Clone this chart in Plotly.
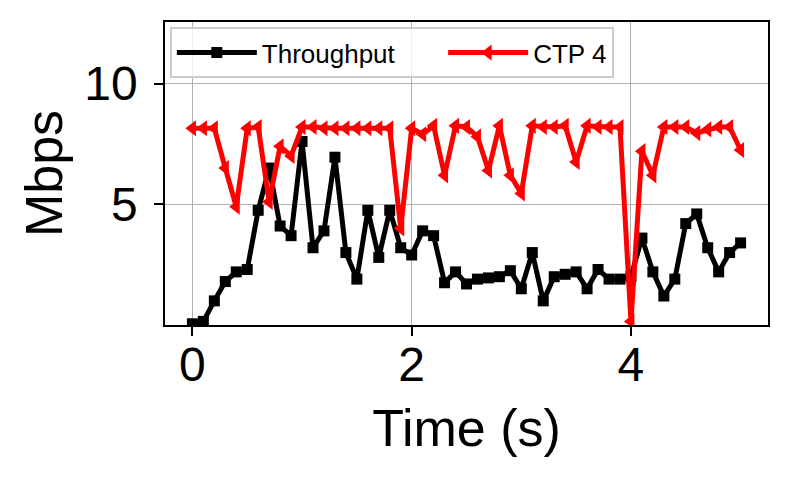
import plotly.graph_objects as go

time_s = [round(i * 0.1, 1) for i in range(51)]
throughput = [0.05, 0.15, 1.0, 1.8, 2.2, 2.3, 4.75, 6.5, 4.1, 3.7,
              7.6, 3.2, 3.9, 6.95, 3.0, 1.9, 4.75, 2.8, 4.75, 3.2,
              2.9, 3.9, 3.7, 1.75, 2.2, 1.7, 1.9, 1.95, 2.0, 2.25,
              1.5, 3.0, 1.0, 2.0, 2.1, 2.2, 1.5, 2.3, 1.9, 1.9,
              2.0, 3.6, 2.2, 1.2, 1.9, 4.2, 4.6, 3.2, 2.2, 3.0, 3.4]
ctp4 = [8.15, 8.15, 8.15, 6.5, 4.9, 8.15, 8.2, 5.1, 7.4, 7.0,
        8.2, 8.2, 8.15, 8.15, 8.15, 8.15, 8.15, 8.15, 8.15, 4.0,
        8.15, 7.9, 8.25, 6.2, 8.25, 8.2, 7.8, 6.4, 8.25, 6.2,
        5.45, 8.25, 8.2, 8.2, 8.25, 6.75, 8.25, 8.2, 8.2, 8.2,
        0.15, 7.2, 6.2, 8.2, 8.2, 8.2, 7.95, 8.1, 8.2, 8.2, 7.25]
x_ticks = [0, 2, 4]
y_ticks = [5, 10]
series_names = ["Throughput", "CTP 4"]

FONT = "Liberation Sans, Arial, Helvetica, sans-serif"
PAD = "\u00a0" * 6

fig = go.Figure()
fig.add_trace(go.Scatter(
    x=time_s, y=throughput, name=series_names[0] + PAD, mode="lines+markers",
    line=dict(color="black", width=5),
    marker=dict(symbol="square", size=11, color="black"),
))
fig.add_trace(go.Scatter(
    x=time_s, y=ctp4, name=series_names[1], mode="lines+markers",
    line=dict(color="#ff0000", width=5),
    marker=dict(symbol="triangle-left", size=14, color="#ff0000"),
))

# page body adds an 8px offset, so the figure is sized to fit the window
fig.update_layout(
    width=784, height=472,
    margin=dict(l=157, r=24, t=14, b=155),
    paper_bgcolor="white", plot_bgcolor="white",
    font=dict(family=FONT, color="black"),
    showlegend=True,
    legend=dict(
        orientation="h", x=0.008, y=0.983, xanchor="left", yanchor="top",
        font=dict(size=26, family=FONT, color="black"),
        bgcolor="rgba(255,255,255,0.8)", bordercolor="#cccccc", borderwidth=2,
        itemwidth=80,
    ),
    xaxis=dict(
        range=[-0.25, 5.25], tickvals=x_ticks, ticktext=[str(v) for v in x_ticks],
        showgrid=True, gridcolor="#b0b0b0", gridwidth=1,
        showline=True, linecolor="black", linewidth=1.5, mirror=True,
        ticks="outside", ticklen=9, tickwidth=1.5, tickcolor="black",
        tickfont=dict(size=48, family=FONT), ticklabelstandoff=-12,
        title=dict(text="Time (s)", font=dict(size=52, family=FONT), standoff=19),
        zeroline=False,
    ),
    yaxis=dict(
        range=[0, 12.55], tickvals=y_ticks, ticktext=[str(v) for v in y_ticks],
        showgrid=True, gridcolor="#b0b0b0", gridwidth=1,
        showline=True, linecolor="black", linewidth=1.5, mirror=True,
        ticks="outside", ticklen=9, tickwidth=1.5, tickcolor="black",
        tickfont=dict(size=48, family=FONT), ticklabelstandoff=7,
        title=dict(text="Mbps", font=dict(size=52, family=FONT), standoff=5),
        zeroline=False,
    ),
)

fig.write_html("out.html")
